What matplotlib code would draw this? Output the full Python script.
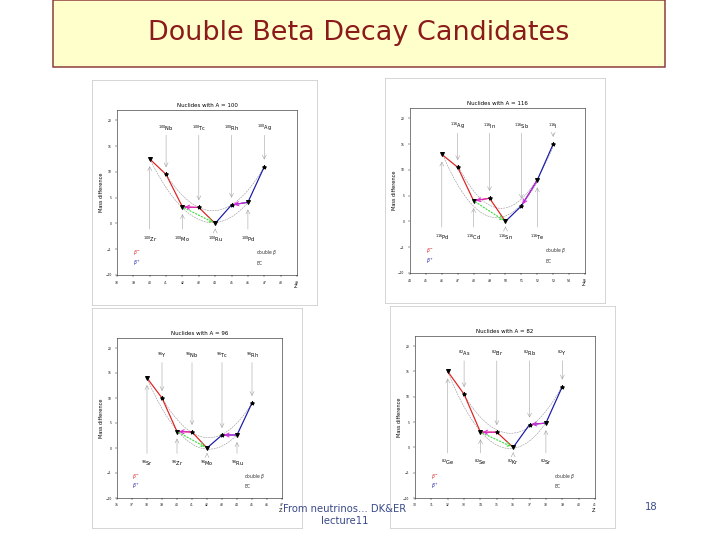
import numpy as np
import matplotlib.pyplot as plt
from matplotlib.patches import Rectangle

# panel data: Z values, mass differences, nuclide names
a100_z = [40, 41, 42, 43, 44, 45, 46, 47]
a100_m = [12.5, 9.5, 3.2, 3.1, 0.0, 3.6, 4.1, 11.0]
a100_n = ["Zr", "Nb", "Mo", "Tc", "Ru", "Rh", "Pd", "Ag"]

a116_z = [46, 47, 48, 49, 50, 51, 52, 53]
a116_m = [13.0, 10.5, 4.0, 4.5, 0.0, 3.0, 8.0, 15.0]
a116_n = ["Pd", "Ag", "Cd", "In", "Sn", "Sb", "Te", "I"]

a96_z = [38, 39, 40, 41, 42, 43, 44, 45]
a96_m = [14.0, 10.0, 3.3, 3.2, 0.0, 2.6, 2.6, 9.0]
a96_n = ["Sr", "Y", "Zr", "Nb", "Mo", "Tc", "Ru", "Rh"]

a82_z = [32, 33, 34, 35, 36, 37, 38, 39]
a82_m = [15.0, 10.5, 3.0, 3.0, 0.0, 4.5, 4.8, 12.0]
a82_n = ["Ge", "As", "Se", "Br", "Kr", "Rb", "Sr", "Y"]

W, H = 720, 540
fig = plt.figure(figsize=(10, 7.5), dpi=72)
fig.patch.set_facecolor("white")

def px(x, y, w, h):
    return [x / W, 1 - (y + h) / H, w / W, h / H]

# title box
fig.patches.append(Rectangle((53 / W, 1 - 67 / H), 612 / W, 67 / H, transform=fig.transFigure,
                             facecolor="#ffffcc", edgecolor="#8b3a3a", lw=1.5))
fig.text(359 / W, 1 - 33 / H, "Double Beta Decay Candidates", ha="center", va="center",
         fontsize=27, color="#8b1a1a")


def panel(box, A, z, m, names):
    bx, by, bw, bh = box
    bg = fig.add_axes(px(bx, by, bw, bh))
    bg.set_xticks([]); bg.set_yticks([])
    for s in bg.spines.values():
        s.set_color("#cccccc")
    ax = fig.add_axes(px(bx + 25, by + 30, bw - 45, bh - 60))
    z = np.array(z); m = np.array(m)
    ax.set_xlim(z[0] - 2, z[-1] + 2)
    ax.set_ylim(-10, 22)
    ax.set_xticks(np.arange(z[0] - 2, z[-1] + 3))
    ax.set_yticks([-10, -5, 0, 5, 10, 15, 20])
    ax.tick_params(labelsize=3, length=2, width=0.4)
    for s in ax.spines.values():
        s.set_linewidth(0.5)
    ax.set_ylabel("Mass difference", fontsize=5, labelpad=1)
    ax.set_xlabel("Z", fontsize=5, loc="right", labelpad=0)
    ax.set_title("Nuclides with A = %d" % A, fontsize=5.5, pad=3)
    imin = int(np.argmin(m))
    # parabolas through odd and even points
    for par in (0, 1):
        sel = (np.arange(len(z)) % 2) == par
        c = np.polyfit(z[sel], m[sel], 2)
        zz = np.linspace(z[sel][0], z[sel][-1], 100)
        ax.plot(zz, np.polyval(c, zz), ls="--", color="#888888", lw=0.5)
    # beta- chain (red), beta+ chain (blue)
    ax.plot(z[:imin + 1], m[:imin + 1], color="#dd2222", lw=1.2)
    ax.plot(z[imin:], m[imin:], color="#1a1aaa", lw=1.2)
    # double beta (green) and EC (magenta)
    ax.annotate("", xy=(z[imin], m[imin]), xytext=(z[imin - 2], m[imin - 2]),
                arrowprops=dict(arrowstyle="->", color="#44dd44", ls=":", lw=1.2))
    ax.annotate("", xy=(z[imin + 1], m[imin + 1]), xytext=(z[imin + 2], m[imin + 2]),
                arrowprops=dict(arrowstyle="->", color="#dd22dd", lw=1.0))
    ax.annotate("", xy=(z[imin - 2], m[imin - 2]), xytext=(z[imin - 1], m[imin - 1]),
                arrowprops=dict(arrowstyle="->", color="#dd22dd", lw=1.0))
    for i in range(len(z)):
        even = i % 2 == 0
        ax.plot(z[i], m[i], marker="v" if even else "*", color="black", ms=4)
        ytxt = -3 if even else 18.5
        ax.annotate("", xy=(z[i], m[i] + (-1 if even else 1)), xytext=(z[i], ytxt + (1.5 if even else -1)),
                    arrowprops=dict(arrowstyle="->", color="#999999", lw=0.5))
        ax.text(z[i], ytxt, "$^{%d}$%s" % (A, names[i]), fontsize=5, ha="center", va="center")
    ax.text(z[0] - 1, -6, r"$\beta^-$", color="#dd2222", fontsize=4.5)
    ax.text(z[0] - 1, -8, r"$\beta^+$", color="#1a1aaa", fontsize=4.5)
    ax.text(z[-1] - 0.5, -6, "double $\\beta$", color="#333333", fontsize=4.5)
    ax.text(z[-1] - 0.5, -8, "EC", color="#333333", fontsize=4.5)


panel((92, 80, 225, 225), 100, a100_z, a100_m, a100_n)
panel((385, 78, 220, 225), 116, a116_z, a116_m, a116_n)
panel((92, 308, 210, 220), 96, a96_z, a96_m, a96_n)
panel((390, 306, 225, 222), 82, a82_z, a82_m, a82_n)

fig.text(345 / W, 1 - 515 / H, "From neutrinos... DK&ER\nlecture11", ha="center", va="center",
         fontsize=10, color="#3a4a8a")
fig.text(651 / W, 1 - 507 / H, "18", ha="center", va="center", fontsize=10, color="#3a4a8a")

fig.savefig("out.png", dpi=72)
